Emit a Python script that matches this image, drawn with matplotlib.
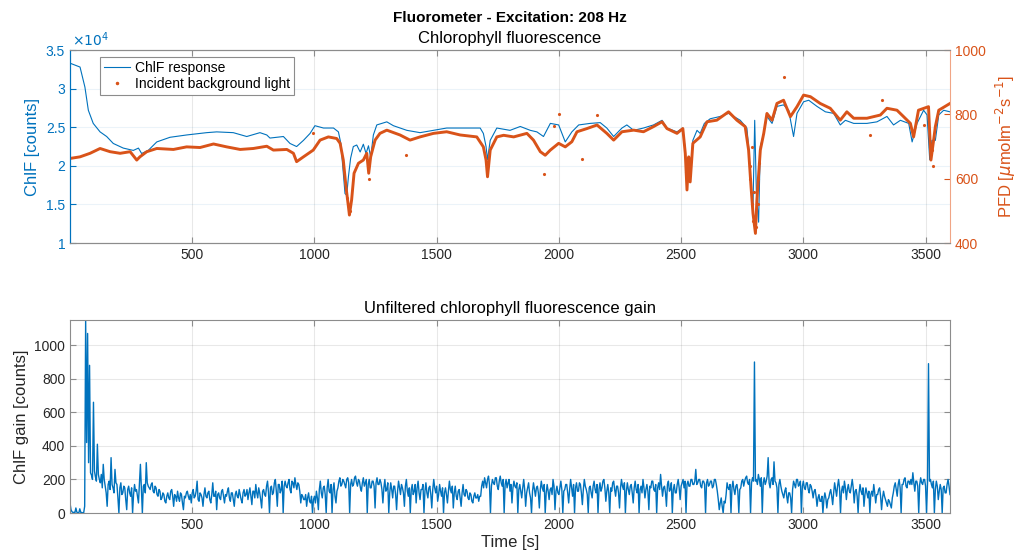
import numpy as np
import matplotlib.pyplot as plt
from matplotlib.lines import Line2D
from matplotlib.ticker import FuncFormatter

plt.rcParams['font.family'] = ['Liberation Sans', 'DejaVu Sans']

BLUE = '#0072BD'
ORANGE = '#D95319'
DARK = '#262626'
BOX = '#8c8c8c'

# ChlF response [counts]
chlf_t = [0, 41, 61, 75, 95, 123, 150, 177, 218, 259,
          280, 293, 320, 355, 409, 477, 559, 600, 668, 723,
          777, 805, 818, 873, 900, 927, 955, 982, 1002, 1037,
          1078, 1098, 1108, 1116, 1125, 1132, 1139, 1148, 1159, 1173,
          1187, 1200, 1211, 1221, 1230, 1241, 1255, 1296, 1323, 1378,
          1432, 1487, 1541, 1596, 1678, 1691, 1702, 1708, 1719, 1746,
          1800, 1842, 1883, 1910, 1937, 1965, 1999, 2026, 2053, 2081,
          2128, 2169, 2196, 2224, 2258, 2278, 2306, 2346, 2387, 2422,
          2442, 2483, 2507, 2517, 2524, 2531, 2537, 2548, 2565, 2578,
          2595, 2619, 2660, 2694, 2715, 2742, 2769, 2776, 2786, 2794,
          2801, 2808, 2817, 2824, 2838, 2851, 2872, 2892, 2919, 2940,
          2960, 2974, 3001, 3022, 3056, 3090, 3124, 3151, 3172, 3206,
          3260, 3301, 3342, 3369, 3397, 3431, 3445, 3465, 3492, 3506,
          3517, 3526, 3540, 3554, 3574, 3600]
chlf_counts = [33300, 32800, 30200, 27200, 25500, 24400, 23800, 22900, 22300, 22000,
               22300, 21600, 22000, 23100, 23700, 24000, 24300, 24400, 24300, 23800,
               24300, 24000, 23600, 23800, 22900, 22500, 23300, 24200, 25200, 24900,
               24900, 24400, 22900, 19900, 16400, 16200, 18600, 21000, 22500, 22700,
               21800, 22800, 21600, 22600, 21100, 24000, 25300, 25700, 25200, 24600,
               24300, 24600, 24900, 24900, 24900, 24200, 22500, 20800, 23300, 24900,
               24600, 25100, 24600, 24400, 23800, 25500, 25300, 23100, 24400, 25300,
               25500, 25600, 24900, 23800, 24900, 25300, 24600, 24900, 25300, 25900,
               24900, 24400, 24900, 22000, 17300, 21200, 18600, 23300, 24600, 24200,
               25500, 26100, 26400, 26800, 26400, 25900, 24900, 22500, 17300, 14700,
               25900, 16400, 12700, 22500, 24200, 26400, 25500, 27700, 27900, 27200,
               23800, 26800, 28300, 28500, 27700, 27000, 26800, 25300, 25900, 25500,
               25500, 25700, 26400, 25300, 25900, 25500, 23100, 25500, 27200, 26600,
               20800, 23300, 23300, 26600, 27200, 27000]

# Incident background light, PFD [umol m-2 s-1]
pfd_t = [0, 41, 82, 123, 164, 205, 246, 273, 286, 314,
         355, 423, 477, 532, 587, 641, 696, 750, 805, 832,
         887, 914, 927, 955, 995, 1023, 1057, 1091, 1105, 1118,
         1129, 1139, 1143, 1152, 1162, 1180, 1200, 1214, 1222, 1230,
         1248, 1268, 1296, 1350, 1391, 1432, 1487, 1541, 1596, 1664,
         1691, 1702, 1708, 1719, 1746, 1774, 1815, 1869, 1896, 1924,
         1944, 1965, 1999, 2026, 2053, 2074, 2115, 2156, 2196, 2224,
         2258, 2306, 2346, 2387, 2422, 2442, 2483, 2507, 2517, 2524,
         2531, 2537, 2548, 2578, 2606, 2646, 2694, 2728, 2762, 2776,
         2786, 2794, 2804, 2810, 2824, 2838, 2851, 2872, 2892, 2919,
         2947, 2974, 3001, 3029, 3069, 3110, 3151, 3178, 3206, 3260,
         3315, 3342, 3383, 3410, 3438, 3451, 3471, 3512, 3522, 3533,
         3540, 3554, 3600]
pfd_v = [663, 668, 679, 694, 684, 679, 684, 658, 668, 684,
         694, 691, 699, 697, 708, 699, 691, 694, 701, 689,
         691, 679, 653, 668, 689, 720, 730, 725, 710, 658,
         575, 513, 487, 534, 617, 648, 658, 679, 617, 668,
         720, 741, 751, 736, 720, 730, 741, 746, 736, 730,
         699, 658, 606, 689, 730, 735, 730, 741, 720, 684,
         673, 689, 710, 699, 715, 746, 756, 767, 741, 720,
         746, 751, 746, 762, 777, 756, 741, 756, 679, 565,
         668, 590, 710, 730, 777, 782, 808, 782, 762, 689,
         575, 492, 430, 534, 689, 741, 803, 782, 834, 844,
         793, 824, 860, 855, 834, 819, 782, 808, 788, 788,
         798, 819, 813, 793, 772, 730, 813, 824, 658, 720,
         762, 813, 834]

# isolated PFD samples away from the main trace
pfd_out_t = [995, 1135, 1145, 1218, 1224, 1375, 1940, 1978, 1999, 2095,
             2155, 2520, 2527, 2534, 2780, 2783, 2790, 2790, 2796, 2800,
             2806, 2813, 2815, 2819, 2919, 3274, 3322, 3494, 3518, 3525, 3530]
pfd_out_v = [741, 540, 500, 640, 600, 673, 614, 763, 802, 662,
             798, 620, 600, 640, 640, 600, 520, 700, 470, 560,
             450, 600, 520, 650, 917, 736, 844, 768, 700, 690, 640]

# unfiltered ChlF gain [counts], one sample every 4 s (20 per row = 80 s)
gain_t = np.arange(0, 3601, 4)
gain_v = [
    60, 20, 8, 3, 4, 2, 30, 5, 2, 0, 25, 4, 3, 1, 2, 40, 1150, 420, 1070, 300,
    880, 240, 225, 200, 660, 250, 215, 190, 410, 230, 200, 180, 230, 150, 290, 200, 160, 120, 40, 170,
    190, 140, 330, 170, 150, 120, 260, 180, 170, 90, 0, 150, 180, 110, 120, 160, 150, 80, 20, 140,
    160, 120, 100, 150, 0, 110, 170, 130, 140, 100, 60, 180, 290, 140, 0, 160, 170, 120, 300, 180,
    160, 150, 140, 170, 180, 130, 120, 160, 150, 110, 100, 140, 130, 80, 90, 120, 110, 70, 60, 100,
    120, 90, 80, 130, 140, 100, 40, 110, 100, 70, 130, 90, 70, 120, 110, 60, 20, 100, 90, 120,
    130, 100, 80, 110, 60, 120, 140, 90, 100, 130, 190, 80, 70, 120, 110, 90, 40, 110, 150, 100,
    90, 120, 130, 80, 60, 110, 180, 100, 100, 130, 20, 110, 120, 90, 80, 130, 140, 100, 60, 110,
    100, 130, 150, 90, 70, 120, 120, 80, 40, 110, 130, 100, 90, 140, 110, 80, 60, 120, 140, 100,
    110, 140, 80, 120, 150, 100, 50, 130, 130, 90, 170, 120, 90, 150, 120, 80, 30, 130, 140, 110,
    100, 160, 190, 120, 0, 150, 160, 110, 120, 180, 200, 130, 40, 170, 170, 120, 140, 190, 0, 160,
    190, 160, 150, 180, 200, 140, 120, 190, 180, 150, 210, 170, 140, 180, 170, 130, 60, 110, 100, 80,
    80, 110, 40, 90, 120, 70, 60, 100, 0, 80, 100, 60, 130, 90, 20, 140, 190, 120, 90, 150,
    160, 110, 0, 150, 200, 130, 120, 170, 0, 140, 180, 100, 60, 130, 150, 190, 210, 160, 170, 200,
    190, 170, 150, 200, 210, 180, 0, 170, 200, 160, 170, 210, 220, 180, 160, 200, 190, 150, 130, 180,
    210, 160, 180, 200, 0, 170, 200, 150, 150, 190, 190, 160, 30, 180, 210, 170, 170, 200, 180, 140,
    60, 150, 200, 130, 140, 180, 0, 120, 180, 140, 90, 160, 160, 110, 20, 130, 190, 150, 110, 170,
    150, 120, 40, 160, 200, 130, 100, 150, 0, 140, 170, 110, 130, 170, 60, 150, 190, 120, 80, 140,
    140, 170, 0, 130, 180, 120, 90, 150, 160, 110, 30, 140, 200, 150, 120, 160, 70, 110, 170, 130,
    100, 150, 0, 120, 150, 110, 60, 130, 190, 140, 120, 160, 30, 120, 160, 100, 80, 130, 140, 90,
    40, 120, 170, 110, 100, 140, 130, 90, 80, 120, 110, 70, 60, 100, 120, 90, 90, 110, 70, 100,
    100, 160, 190, 150, 210, 180, 150, 200, 220, 170, 0, 160, 200, 180, 170, 210, 210, 160, 140, 190,
    220, 180, 160, 200, 0, 170, 200, 150, 180, 200, 130, 170, 60, 150, 190, 160, 150, 180, 0, 140,
    170, 130, 90, 150, 200, 140, 40, 120, 150, 180, 120, 90, 0, 130, 180, 140, 100, 150, 160, 120,
    30, 140, 190, 150, 130, 170, 0, 120, 170, 130, 80, 140, 150, 110, 200, 160, 20, 130, 160, 120,
    110, 150, 190, 140, 0, 130, 140, 170, 170, 120, 60, 140, 200, 150, 100, 170, 0, 150, 180, 130,
    130, 180, 170, 120, 50, 140, 200, 160, 140, 110, 0, 150, 160, 120, 90, 160, 190, 140, 120, 170,
    0, 140, 180, 130, 150, 190, 200, 150, 70, 130, 170, 120, 0, 150, 130, 180, 190, 140, 100, 160,
    160, 120, 30, 150, 200, 160, 140, 180, 0, 130, 180, 140, 110, 160, 170, 120, 60, 150, 190, 140,
    120, 170, 0, 140, 160, 120, 200, 150, 90, 140, 170, 130, 20, 160, 150, 190, 190, 140, 130, 170,
    0, 150, 180, 140, 230, 160, 100, 150, 160, 120, 40, 170, 190, 130, 140, 180, 0, 140, 170, 120,
    120, 170, 200, 150, 80, 160, 180, 200, 150, 190, 0, 170, 190, 160, 160, 200, 200, 170, 170, 190,
    260, 170, 180, 200, 200, 160, 150, 190, 190, 170, 0, 180, 200, 160, 170, 190, 190, 150, 160, 200,
    200, 170, 130, 80, 20, 60, 90, 40, 0, 70, 60, 110, 180, 150, 140, 170, 0, 150, 190, 140,
    110, 160, 170, 130, 0, 140, 150, 190, 200, 160, 190, 210, 220, 180, 170, 200, 0, 180, 210, 190,
    900, 190, 200, 170, 230, 200, 160, 210, 0, 180, 210, 170, 190, 220, 330, 180, 150, 200, 210, 170,
    305, 190, 180, 150, 0, 170, 200, 160, 130, 110, 90, 130, 150, 100, 60, 120, 120, 90, 0, 140,
    190, 170, 150, 200, 200, 160, 170, 190, 0, 160, 190, 150, 140, 180, 180, 140, 120, 170, 160, 130,
    90, 130, 140, 100, 40, 90, 110, 70, 70, 100, 0, 80, 120, 90, 30, 80, 90, 120, 140, 100,
    50, 120, 180, 140, 100, 160, 200, 150, 0, 130, 160, 120, 190, 150, 80, 140, 170, 130, 120, 160,
    200, 150, 60, 130, 140, 100, 0, 120, 170, 130, 110, 150, 40, 110, 150, 120, 90, 130, 0, 110,
    130, 100, 170, 120, 60, 110, 110, 140, 150, 100, 20, 90, 130, 100, 80, 60, 40, 80, 70, 50,
    30, 90, 120, 160, 180, 140, 100, 170, 200, 150, 0, 170, 170, 200, 210, 160, 150, 190, 190, 170,
    200, 170, 240, 180, 130, 190, 190, 160, 0, 170, 210, 180, 170, 200, 200, 160, 0, 180, 890, 190,
    200, 170, 150, 190, 0, 140, 190, 160, 80, 130, 170, 140, 0, 150, 160, 120, 120, 170, 200, 160,
    110]

xticks = [500, 1000, 1500, 2000, 2500, 3000, 3500]

fig = plt.figure(figsize=(10.19, 5.6), dpi=100)
ax = fig.add_axes([0.0687, 0.566, 0.8636, 0.3446])
ax2 = ax.twinx()
bx = fig.add_axes([0.0687, 0.0839, 0.8636, 0.3446])

# --- top: ChlF response and background light ---
h1, = ax.plot(chlf_t, chlf_counts, color=BLUE, lw=0.8)
ax2.plot(pfd_t, pfd_v, color=ORANGE, lw=2.1, solid_joinstyle='round')
ax2.plot(pfd_out_t, pfd_out_v, '.', color=ORANGE, ms=2.5)

ax.set_xlim(0, 3600)
ax.set_ylim(10000, 35000)
ax.set_yticks(np.arange(10000, 35001, 5000))
ax.yaxis.set_major_formatter(FuncFormatter(lambda v, p: f'{v / 1e4:g}'))
ax.set_xticks(xticks)
ax2.set_ylim(400, 1000)
ax2.set_yticks([400, 600, 800, 1000])

ax.xaxis.grid(True, color=DARK, alpha=0.1, lw=0.8)
ax.yaxis.grid(True, color=BLUE, alpha=0.08, lw=0.8)
ax.set_axisbelow(True)

ax.tick_params(axis='x', direction='in', top=True, colors=BOX, labelcolor=DARK,
               labelsize=10, length=4)
ax.tick_params(axis='y', direction='in', colors=BLUE, labelsize=10, length=4)
ax2.tick_params(axis='y', direction='in', colors=ORANGE, labelsize=10, length=4)

for s in ['top', 'bottom']:
    ax.spines[s].set_color(BOX)
    ax2.spines[s].set_color(BOX)
ax.spines['left'].set_color(BLUE)
ax2.spines['left'].set_color(BLUE)
ax2.spines['right'].set_color('#f0a585')
ax.spines['right'].set_visible(False)

ax.set_ylabel('ChlF [counts]', color=BLUE, fontsize=12, labelpad=4)
ax2.set_ylabel(r'PFD [$\mu$molm$^{-2}$s$^{-1}$]', color=ORANGE, fontsize=12, labelpad=6)
ax.text(0.002, 1.005, r'$\times10^{4}$', transform=ax.transAxes, color=BLUE,
        fontsize=10, ha='left', va='bottom')
ax.set_title('Chlorophyll fluorescence', fontsize=12, color='black', pad=5)

handles = [h1, Line2D([], [], color=ORANGE, marker='.', ls='none', ms=3)]
leg = ax2.legend(handles, ['ChlF response', 'Incident background light'],
                 loc='upper left', bbox_to_anchor=(0.034, 0.966), borderaxespad=0,
                 fontsize=10, fancybox=False, framealpha=1, edgecolor=BOX,
                 handlelength=1.9, handletextpad=0.3, labelspacing=0.15,
                 borderpad=0.3)
leg.get_frame().set_linewidth(0.8)

fig.text(0.5005, 0.968, 'Fluorometer - Excitation: 208 Hz', ha='center', va='center',
         fontsize=11, fontweight='bold')

# --- bottom: unfiltered gain ---
bx.plot(gain_t, gain_v, color=BLUE, lw=1.0)
bx.set_xlim(0, 3600)
bx.set_ylim(0, 1150)
bx.set_xticks(xticks)
bx.set_yticks(np.arange(0, 1001, 200))
bx.grid(True, color=DARK, alpha=0.1, lw=0.8)
bx.set_axisbelow(True)
bx.tick_params(direction='in', top=True, right=True, colors=BOX, labelcolor=DARK,
               labelsize=10, length=4)
for s in bx.spines.values():
    s.set_color(BOX)
bx.set_title('Unfiltered chlorophyll fluorescence gain', fontsize=12, pad=5)
bx.set_ylabel('ChlF gain [counts]', fontsize=12, color=DARK, labelpad=4)
bx.set_xlabel('Time [s]', fontsize=12, color=DARK, labelpad=2)

fig.savefig('out.png', dpi=100)
